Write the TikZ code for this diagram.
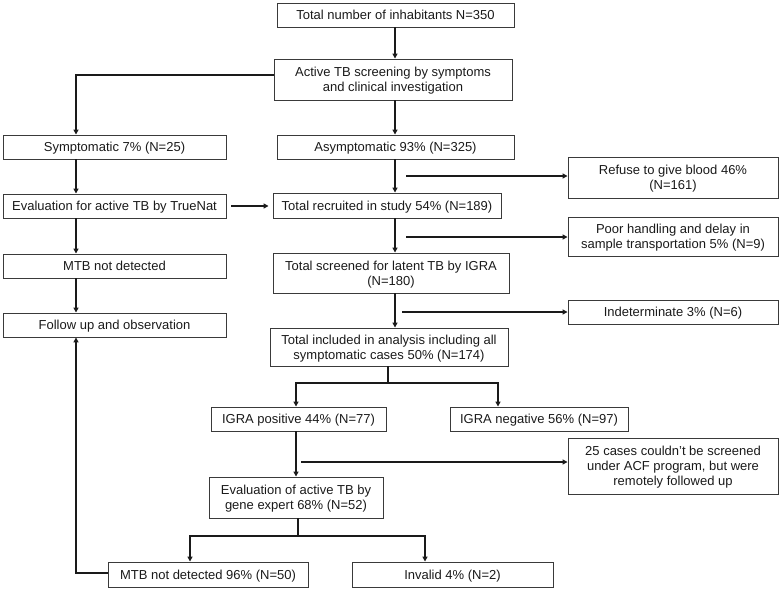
\documentclass[tikz,border=0pt]{standalone}
\usepackage{fontspec}
\setmainfont{Liberation Sans}
\usetikzlibrary{arrows.meta,positioning,calc}
\definecolor{boxgray}{HTML}{3A3A3A}
\definecolor{inkblack}{HTML}{1A1A1A}

\begin{document}
\begin{tikzpicture}[
    x=1pt, y=-1pt,
    font=\fontsize{13}{14.8}\selectfont,
    >={Triangle[length=5pt, width=5pt]},
    box/.style={draw=boxgray, line width=0.9pt, inner sep=0pt, text depth=0pt, align=center, text=inkblack},
    line/.style={draw=inkblack, line width=1.7pt},
    arrow/.style={line, ->},
]
    \useasboundingbox (0,0) rectangle (782,594);

    % =====================================================================
    % MAIN COLUMN
    % =====================================================================
    \node[box, minimum width=237, minimum height=24] (total) at (395.5, 15) {Total number of inhabitants N=350};
    \node[box, minimum width=238, minimum height=41] (screen) at (393, 79.5) {Active TB screening by symptoms\\and clinical investigation};
    \node[box, minimum width=237, minimum height=24] (asympt) at (395.5, 147) {Asymptomatic 93\% (N=325)};
    \node[box, minimum width=228, minimum height=25] (recruit) at (387, 205.5) {Total recruited in study 54\% (N=189)};
    \node[box, minimum width=236, minimum height=40] (screened) at (391, 273) {Total screened for latent TB by IGRA\\(N=180)};
    \node[box, minimum width=238, minimum height=38] (incl) at (389, 347) {Total included in analysis including all\\symptomatic cases 50\% (N=174)};

    % Exclusions
    \node[box, minimum width=210, minimum height=41] (refuse) at (673, 177.5) {Refuse to give blood 46\%\\(N=161)};
    \node[box, minimum width=210, minimum height=39] (poor) at (673, 236.5) {Poor handling and delay in\\sample transportation 5\% (N=9)};
    \node[box, minimum width=210, minimum height=24] (indet) at (673, 312) {Indeterminate 3\% (N=6)};

    % =====================================================================
    % SYMPTOMATIC BRANCH
    % =====================================================================
    \node[box, minimum width=223, minimum height=24] (sympt) at (114.5, 147) {Symptomatic 7\% (N=25)};
    \node[box, minimum width=223, minimum height=24] (truenat) at (114.5, 206) {Evaluation for active TB by TrueNat};
    \node[box, minimum width=223, minimum height=24] (mtbnd) at (114.5, 266) {MTB not detected};
    \node[box, minimum width=223, minimum height=24] (follow) at (114.5, 325) {Follow up and observation};

    % =====================================================================
    % IGRA RESULTS
    % =====================================================================
    \node[box, minimum width=175, minimum height=24] (igrapos) at (298.5, 419) {IGRA positive 44\% (N=77)};
    \node[box, minimum width=178, minimum height=24] (igraneg) at (539, 419) {IGRA negative 56\% (N=97)};
    \node[box, minimum width=210, minimum height=56] (acf) at (673, 466) {25 cases couldn't be screened\\under ACF program, but were\\remotely followed up};
    \node[box, minimum width=174, minimum height=41] (gene) at (296, 497.5) {Evaluation of active TB by\\gene expert 68\% (N=52)};
    \node[box, minimum width=200, minimum height=25] (mtb96) at (208, 574.5) {MTB not detected 96\% (N=50)};
    \node[box, minimum width=201, minimum height=25] (invalid) at (452.5, 574.5) {Invalid 4\% (N=2)};

    % Junctions and side exits
    \coordinate (lx) at (76, 0);
    \coordinate (mx) at (395, 0);
    \coordinate (px) at (296, 0);
    \coordinate (s1) at (406, 176);
    \coordinate (s2) at (406, 237);
    \coordinate (s3) at (402, 312);
    \coordinate (s4) at (301, 462);
    \coordinate (j1) at (388, 383);
    \coordinate (j2) at (298, 536);

    % Main flow
    \draw[arrow] (mx |- total.south) -- (mx |- screen.north);
    \draw[arrow] (mx |- screen.south) -- (mx |- asympt.north);
    \draw[arrow] (mx |- asympt.south) -- (mx |- recruit.north);
    \draw[arrow] (mx |- recruit.south) -- (mx |- screened.north);
    \draw[arrow] (mx |- screened.south) -- (mx |- incl.north);

    % Side exits
    \draw[arrow] (s1) -- (s1 -| refuse.west);
    \draw[arrow] (s2) -- (s2 -| poor.west);
    \draw[arrow] (s3) -- (s3 -| indet.west);
    \draw[arrow] (s4) -- (s4 -| acf.west);

    % Symptomatic branch
    \draw[arrow] ([yshift=4.5]screen.west) -| (lx |- sympt.north);
    \draw[arrow] (lx |- sympt.south) -- (lx |- truenat.north);
    \draw[arrow] (lx |- truenat.south) -- (lx |- mtbnd.north);
    \draw[arrow] (lx |- mtbnd.south) -- (lx |- follow.north);
    \draw[arrow, shorten <=5pt, shorten >=4pt] (truenat.east) -- (truenat.east -| recruit.west);

    % IGRA split
    \draw[line] (j1 |- incl.south) -- (j1);
    \draw[arrow] (j1) -| (px |- igrapos.north);
    \draw[arrow] (j1) -| ([xshift=-41]igraneg.north);
    \draw[arrow] (px |- igrapos.south) -- (px |- gene.north);

    % Gene expert split
    \draw[line] (j2 |- gene.south) -- (j2);
    \draw[arrow] (j2) -| ([xshift=-18]mtb96.north);
    \draw[arrow] (j2) -| ([xshift=-27.5]invalid.north);
    \draw[arrow] ([yshift=1.5]mtb96.west) -| (lx |- follow.south);

\end{tikzpicture}
\end{document}
